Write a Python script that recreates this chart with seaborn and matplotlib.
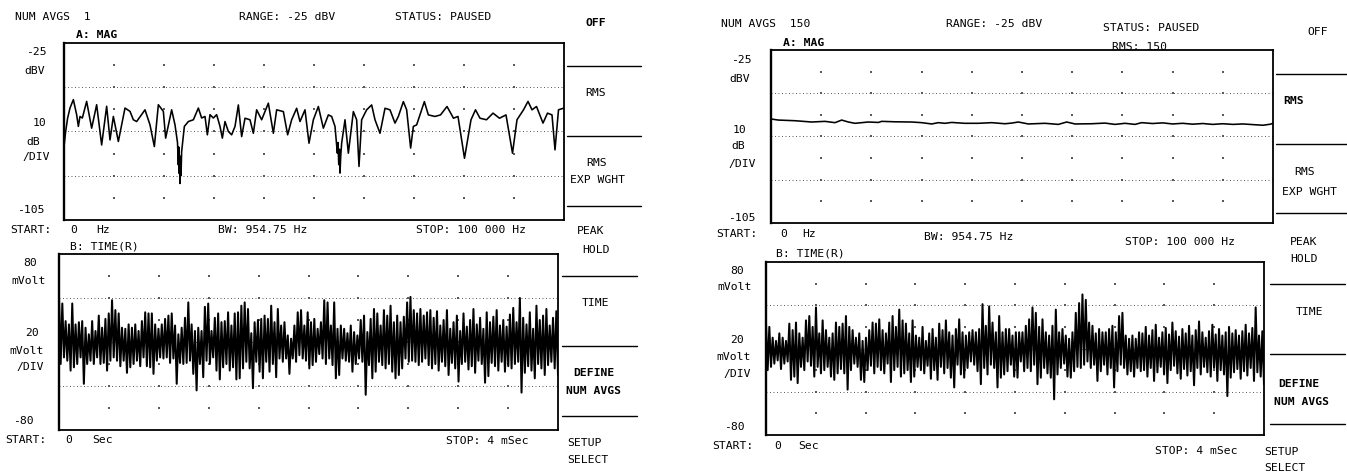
import numpy as np
import pandas as pd
import matplotlib
matplotlib.use("Agg")
import matplotlib.pyplot as plt
import seaborn as sns

# ---------------- data ----------------
# Trace A, NUM AVGS 1: magnitude spectrum (kHz, dBV)
spec1_khz = [0.0, 0.33, 0.73, 1.2, 1.87, 2.53, 2.87, 3.2, 3.67, 4.53,
             5.53, 6.53, 7.53, 8.53, 9.2, 9.87, 10.87, 12.2, 13.2, 13.87,
             14.53, 16.2, 17.2, 18.07, 18.87, 19.87, 20.33, 21.53, 22.2, 22.7,
             22.87, 22.95, 23.05, 23.15, 23.2, 23.3, 23.4, 23.53, 24.07, 24.87,
             25.87, 26.87, 27.53, 28.2, 28.67, 29.2, 29.87, 30.53, 31.2, 31.67,
             32.2, 32.87, 33.53, 34.2, 34.87, 35.53, 36.2, 37.2, 37.87, 38.53,
             39.53, 40.87, 41.87, 42.53, 43.87, 44.73, 45.53, 46.53, 47.2, 48.2,
             49.0, 49.87, 50.87, 51.87, 52.87, 53.53, 54.2, 54.67, 54.8, 54.95,
             55.1, 55.2, 55.35, 55.53, 56.2, 56.87, 57.87, 58.53, 59.0, 59.53,
             60.53, 61.53, 62.2, 63.2, 64.2, 65.2, 66.2, 66.87, 67.87, 68.53,
             69.33, 69.87, 70.53, 71.2, 72.07, 72.87, 74.2, 75.3, 76.6, 77.9,
             78.8, 80.1, 81.4, 82.3, 83.2, 84.5, 85.8, 87.1, 88.4, 89.7,
             90.6, 91.9, 92.8, 93.6, 94.5, 95.8, 96.7, 97.6, 98.2, 98.9,
             100.0]
spec1_dbv = [-71.8, -65.0, -58.9, -54.4, -50.6, -57.4, -62.7, -58.2, -58.9, -51.4,
             -63.5, -52.9, -71.1, -53.6, -68.8, -58.2, -69.5, -54.4, -55.9, -59.7,
             -60.5, -55.2, -62.0, -71.8, -52.9, -55.9, -68.0, -55.2, -62.0, -70.0,
             -80.1, -72.0, -84.0, -76.0, -88.5, -78.0, -85.0, -74.1, -62.7, -60.5,
             -59.7, -54.4, -58.9, -58.2, -66.5, -57.4, -58.9, -57.4, -62.7, -68.0,
             -60.5, -65.0, -66.5, -62.7, -53.0, -67.3, -59.0, -59.7, -65.8, -55.2,
             -59.7, -52.2, -65.8, -55.2, -56.0, -66.5, -59.7, -54.5, -60.5, -55.2,
             -70.3, -59.7, -53.7, -63.5, -57.5, -58.2, -62.7, -74.8, -70.0, -80.0,
             -73.0, -83.8, -76.0, -70.3, -59.7, -74.8, -56.0, -59.7, -80.8, -59.7,
             -55.2, -53.0, -59.7, -65.8, -54.5, -55.2, -61.2, -58.2, -51.5, -55.2,
             -72.5, -62.7, -62.0, -57.5, -51.5, -57.5, -58.2, -57.5, -53.7, -59.0,
             -58.2, -77.1, -59.7, -55.2, -59.0, -59.7, -56.7, -59.0, -57.5, -74.8,
             -59.7, -55.2, -51.4, -55.2, -53.7, -61.2, -56.7, -57.5, -73.3, -55.2,
             -54.4]

# Trace A, NUM AVGS 150: RMS-averaged spectrum (kHz, dBV)
spec150_khz = [0, 1.46, 4.78, 8.1, 10.76, 12.75, 14.08, 15.41, 16.73, 19.39,
               21.38, 22.05, 24.7, 28.03, 30.02, 32.01, 33.34, 34.66, 35.99, 38.64,
               41.3, 43.96, 46.61, 47.94, 49.27, 51.26, 54.58, 57.24, 58.9, 60.56,
               63.88, 66.53, 68.53, 70.52, 72.51, 73.84, 76, 78, 80, 82,
               84, 86, 88, 90, 92, 94, 96, 98, 99.5, 100]
spec150_dbv = [-56.9, -57.4, -57.7, -58.3, -58.0, -58.6, -57.4, -58.3, -58.9, -58.3,
               -58.5, -58.0, -58.2, -58.3, -58.6, -59.2, -58.6, -58.9, -58.5, -58.9,
               -58.9, -58.6, -59.1, -58.8, -58.3, -59.2, -58.9, -59.4, -58.3, -59.2,
               -59.1, -58.8, -59.4, -58.9, -59.4, -58.6, -59.0, -58.7, -59.2, -58.9,
               -59.3, -59.0, -59.4, -59.1, -59.4, -59.2, -59.5, -59.8, -59.3, -58.9]

# Trace B (time record, 0..4 ms): upper / lower excursions per short slice (mV)
time1_hi = [41, 35, 19, 16, 35, 16, 18, 19, 13, 7, 19, 10, 24, 13, 21, 26, 38, 29, 26, 13,
            12, 16, 13, 16, 10, 19, 27, 26, 26, 16, 12, 16, 21, 24, 26, 15, 7, 13, 22, 36,
            16, 10, 13, 10, 32, 35, 10, 22, 26, 18, 19, 27, 15, 26,
            27, 33, 36, 30, 8, 18, 20, 21, 24, 21, 33, 18, 30, 15, 18, 6, 3, 15, 27, 29,
            15, 27, 18, 21, 12, 18, 38, 36, 15, 36, 12, 15, 12, 8, 15, 9, 6, 20, 24, 9,
            21, 30, 26, 15, 29, 24, 33, 18, 24, 18, 23, 36, 41, 29, 26, 30, 24, 27, 29,
            22, 28, 15, 20, 29, 12, 18, 24, 10, 26, 14, 20, 30, 16, 22, 12, 27, 18, 23, 29,
            15, 20, 14, 25, 31, 18, 40, 22, 16, 27, 12, 33, 20, 24, 30, 15, 22, 28]
time1_lo = [-20, -14, -17, -26, -23, -20, -14, -38, -20, -17, -20, -14, -20, -19, -26, -17, -14, -17, -22, -17,
            -28, -23, -20, -17, -22, -14, -22, -23, -29, -17, -14, -15, -14, -19, -15, -38, -19, -20, -19, -17,
            -29, -44, -20, -32, -17, -20, -14, -26, -34, -23, -20, -26, -23, -34,
            -33, -24, -18, -24, -42, -18, -27, -33, -18, -27, -20, -32, -15, -18, -15, -29, -15, -18, -12, -15,
            -17, -24, -21, -18, -11, -15, -20, -15, -21, -33, -30, -15, -17, -18, -27, -20, -15, -18, -48, -21,
            -33, -27, -18, -21, -24, -20, -27, -33, -30, -24, -15, -18, -17, -18, -21, -18, -15, -21, -24,
            -20, -26, -18, -22, -30, -19, -24, -36, -20, -18, -25, -22, -28, -17, -20, -37, -31, -19, -22, -26,
            -18, -27, -22, -24, -20, -18, -46, -28, -22, -26, -33, -20, -24, -30, -21, -18, -24, -30]

time150_hi = [23, 20, 10, 7, 14, 10, 7, 23, 17, 24, 14, 10, 26, 30, 20, 38, 14, 26, 17, 10,
              14, 24, 20, 23, 30, 20, 17, 10, 14, 7, 10, 17, 24, 23, 27, 17, 14, 24, 30, 20,
              36, 26, 23, 14, 26, 12, 10, 20, 7, 14, 18, 10, 23, 17,
              26, 15, 12, 18, 27, 15, 12, 15, 17, 15, 18, 41, 21, 39, 24, 15, 30, 15, 18, 18,
              12, 15, 15, 15, 21, 27, 38, 33, 20, 27, 15, 12, 21, 36, 15, 18, 12, 9, 15, 33,
              42, 50, 45, 24, 21, 14, 18, 15, 15, 18, 21, 15, 30, 33, 12, 9, 12, 9, 15,
              14, 20, 12, 17, 22, 10, 15, 19, 13, 24, 16, 11, 18, 14, 21, 12, 17, 25, 15, 10,
              16, 22, 13, 18, 12, 15, 20, 14, 17, 12, 16, 22, 14, 19, 38, 12, 16]
time150_lo = [-20, -17, -14, -11, -19, -14, -12, -29, -26, -32, -17, -20, -12, -16, -26, -17, -23, -20, -17, -26,
              -29, -23, -19, -23, -38, -20, -14, -17, -29, -31, -20, -16, -23, -17, -20, -23, -14, -31, -20, -17,
              -26, -23, -20, -31, -26, -17, -20, -23, -16, -28, -20, -29, -17, -23,
              -18, -27, -36, -15, -24, -27, -18, -12, -15, -21, -33, -18, -24, -15, -18, -36, -27, -24, -21, -15,
              -26, -27, -12, -21, -18, -21, -15, -33, -27, -18, -23, -27, -47, -24, -18, -14, -26, -27, -21, -17,
              -18, -15, -12, -18, -15, -30, -21, -15, -24, -18, -36, -21, -15, -18, -24, -21, -26, -18, -21,
              -20, -26, -18, -30, -22, -17, -24, -32, -20, -16, -23, -28, -19, -25, -21, -34, -18, -24, -17, -22,
              -26, -18, -30, -20, -24, -44, -27, -22, -19, -28, -21, -25, -18, -30, -22, -26, -33]

STOP_MS = 4.0

# ---------------- figure ----------------
sns.set_theme(style="white")
plt.rcParams["font.family"] = ["DejaVu Sans Mono", "DejaVu Sans"]
W, H = 1347, 473
fig = plt.figure(figsize=(W / 100, H / 100), dpi=100)
fig.patch.set_facecolor("white")


def px_axes(x0, y0, x1, y1):
    return fig.add_axes([x0 / W, 1 - y1 / H, (x1 - x0) / W, (y1 - y0) / H])


def style_screen(ax, xlim, ylim):
    ax.set_xlim(*xlim)
    ax.set_ylim(*ylim)
    ax.set_xticks([])
    ax.set_yticks([])
    ax.set_xlabel("")
    ax.set_ylabel("")
    ax.set_facecolor("white")
    for s in ax.spines.values():
        s.set_visible(True)
        s.set_color("black")
        s.set_linewidth(1.3)
    ax.spines["left"].set_linewidth(1.7)
    xs = np.linspace(xlim[0], xlim[1], 11)[1:-1]
    ys = np.linspace(ylim[0], ylim[1], 9)[1:-1]
    for j, yv in enumerate(ys):
        if j % 2 == 1:
            ax.axhline(yv, ls=(0, (1, 2.6)), lw=0.7, color="0.35", zorder=1)
    X, Y = np.meshgrid(xs, ys)
    ax.scatter(X.ravel(), Y.ravel(), s=1.2, c="0.35", marker="s", linewidths=0, zorder=1)


def time_frame(hi, lo):
    n = len(hi)
    v = np.empty(2 * n)
    v[0::2] = hi
    v[1::2] = lo
    t = np.linspace(0, STOP_MS, 2 * n)
    return pd.DataFrame({"t": t, "mv": v})


panels = [
    dict(spec=(spec1_khz, spec1_dbv), time=(time1_hi, time1_lo),
         top=(64, 43, 564, 220), bot=(59, 254, 558, 430)),
    dict(spec=(spec150_khz, spec150_dbv), time=(time150_hi, time150_lo),
         top=(771, 50, 1273, 223), bot=(766, 262, 1264, 435)),
]

for p in panels:
    ax = px_axes(*p["top"])
    df = pd.DataFrame({"khz": p["spec"][0], "dbv": p["spec"][1]})
    sns.lineplot(data=df, x="khz", y="dbv", ax=ax, color="black", lw=1.15,
                 estimator=None, sort=False, zorder=3)
    style_screen(ax, (0, 100), (-105, -25))

    ax2 = px_axes(*p["bot"])
    dft = time_frame(*p["time"])
    sns.lineplot(data=dft, x="t", y="mv", ax=ax2, color="black", lw=1.45,
                 estimator=None, sort=False, zorder=3)
    style_screen(ax2, (0, STOP_MS), (-80, 80))

# ---------------- overlay: annotations & softkey menu ----------------
ov = fig.add_axes([0, 0, 1, 1])
ov.set_xlim(0, W)
ov.set_ylim(H, 0)
ov.axis("off")
ov.patch.set_visible(False)

FS = 8.2
texts = [
    # left screen
    (15, 17, "NUM AVGS  1", "left", "normal"),
    (239, 17, "RANGE: -25 dBV", "left", "normal"),
    (395, 17, "STATUS: PAUSED", "left", "normal"),
    (76, 35, "A: MAG", "left", "bold"),
    (36, 52, "-25", "center", "normal"),
    (35, 71, "dBV", "center", "normal"),
    (39, 123, "10", "center", "normal"),
    (33, 142, "dB", "center", "normal"),
    (36, 157, "/DIV", "center", "normal"),
    (31, 210, "-105", "center", "normal"),
    (10, 230, "START:", "left", "normal"),
    (70, 230, "0", "left", "normal"),
    (96, 230, "Hz", "left", "normal"),
    (218, 230, "BW: 954.75 Hz", "left", "normal"),
    (416, 230, "STOP: 100 000 Hz", "left", "normal"),
    (70, 246, "B: TIME(R)", "left", "normal"),
    (30, 263, "80", "center", "normal"),
    (29, 281, "mVolt", "center", "normal"),
    (32, 333, "20", "center", "normal"),
    (27, 351, "mVolt", "center", "normal"),
    (30, 367, "/DIV", "center", "normal"),
    (23, 421, "-80", "center", "normal"),
    (5, 440, "START:", "left", "normal"),
    (65, 440, "0", "left", "normal"),
    (92, 440, "Sec", "left", "normal"),
    (446, 441, "STOP: 4 mSec", "left", "normal"),
    # left menu
    (596, 23, "OFF", "center", "bold"),
    (596, 93, "RMS", "center", "normal"),
    (597, 163, "RMS", "center", "normal"),
    (598, 180, "EXP WGHT", "center", "normal"),
    (591, 231, "PEAK", "center", "normal"),
    (596, 250, "HOLD", "center", "normal"),
    (595, 303, "TIME", "center", "normal"),
    (594, 373, "DEFINE", "center", "bold"),
    (594, 391, "NUM AVGS", "center", "bold"),
    (567, 443, "SETUP", "left", "normal"),
    (567, 460, "SELECT", "left", "normal"),
    # right screen
    (721, 24, "NUM AVGS  150", "left", "normal"),
    (946, 24, "RANGE: -25 dBV", "left", "normal"),
    (1103, 28, "STATUS: PAUSED", "left", "normal"),
    (1112, 47, "RMS: 150", "left", "normal"),
    (783, 43, "A: MAG", "left", "bold"),
    (741, 60, "-25", "center", "normal"),
    (740, 79, "dBV", "center", "normal"),
    (739, 130, "10", "center", "normal"),
    (738, 146, "dB", "center", "normal"),
    (742, 164, "/DIV", "center", "normal"),
    (742, 218, "-105", "center", "normal"),
    (716, 234, "START:", "left", "normal"),
    (780, 234, "0", "left", "normal"),
    (802, 234, "Hz", "left", "normal"),
    (924, 237, "BW: 954.75 Hz", "left", "normal"),
    (1125, 242, "STOP: 100 000 Hz", "left", "normal"),
    (776, 253, "B: TIME(R)", "left", "normal"),
    (737, 271, "80", "center", "normal"),
    (735, 287, "mVolt", "center", "normal"),
    (737, 340, "20", "center", "normal"),
    (734, 357, "mVolt", "center", "normal"),
    (737, 374, "/DIV", "center", "normal"),
    (734, 427, "-80", "center", "normal"),
    (712, 446, "START:", "left", "normal"),
    (774, 446, "0", "left", "normal"),
    (798, 446, "Sec", "left", "normal"),
    (1155, 451, "STOP: 4 mSec", "left", "normal"),
    # right menu
    (1318, 32, "OFF", "center", "normal"),
    (1294, 101, "RMS", "center", "bold"),
    (1305, 172, "RMS", "center", "normal"),
    (1310, 192, "EXP WGHT", "center", "normal"),
    (1304, 242, "PEAK", "center", "normal"),
    (1304, 259, "HOLD", "center", "normal"),
    (1309, 312, "TIME", "center", "normal"),
    (1299, 384, "DEFINE", "center", "bold"),
    (1302, 402, "NUM AVGS", "center", "bold"),
    (1264, 452, "SETUP", "left", "normal"),
    (1264, 468, "SELECT", "left", "normal"),
]
for x, y, s, ha, wt in texts:
    ov.text(x, y, s, ha=ha, va="center", fontsize=FS, fontweight=wt, color="black")

menu_lines = [
    (567, 641, 66), (567, 641, 136), (567, 641, 206),
    (562, 637, 276), (562, 637, 346), (562, 637, 416),
    (1276, 1347, 74), (1276, 1347, 144), (1276, 1347, 213),
    (1270, 1345, 284), (1270, 1345, 354), (1270, 1345, 424),
]
for x0, x1, y in menu_lines:
    ov.plot([x0, x1], [y, y], color="black", lw=1.0)

fig.savefig("out.png", dpi=100, facecolor="white")
